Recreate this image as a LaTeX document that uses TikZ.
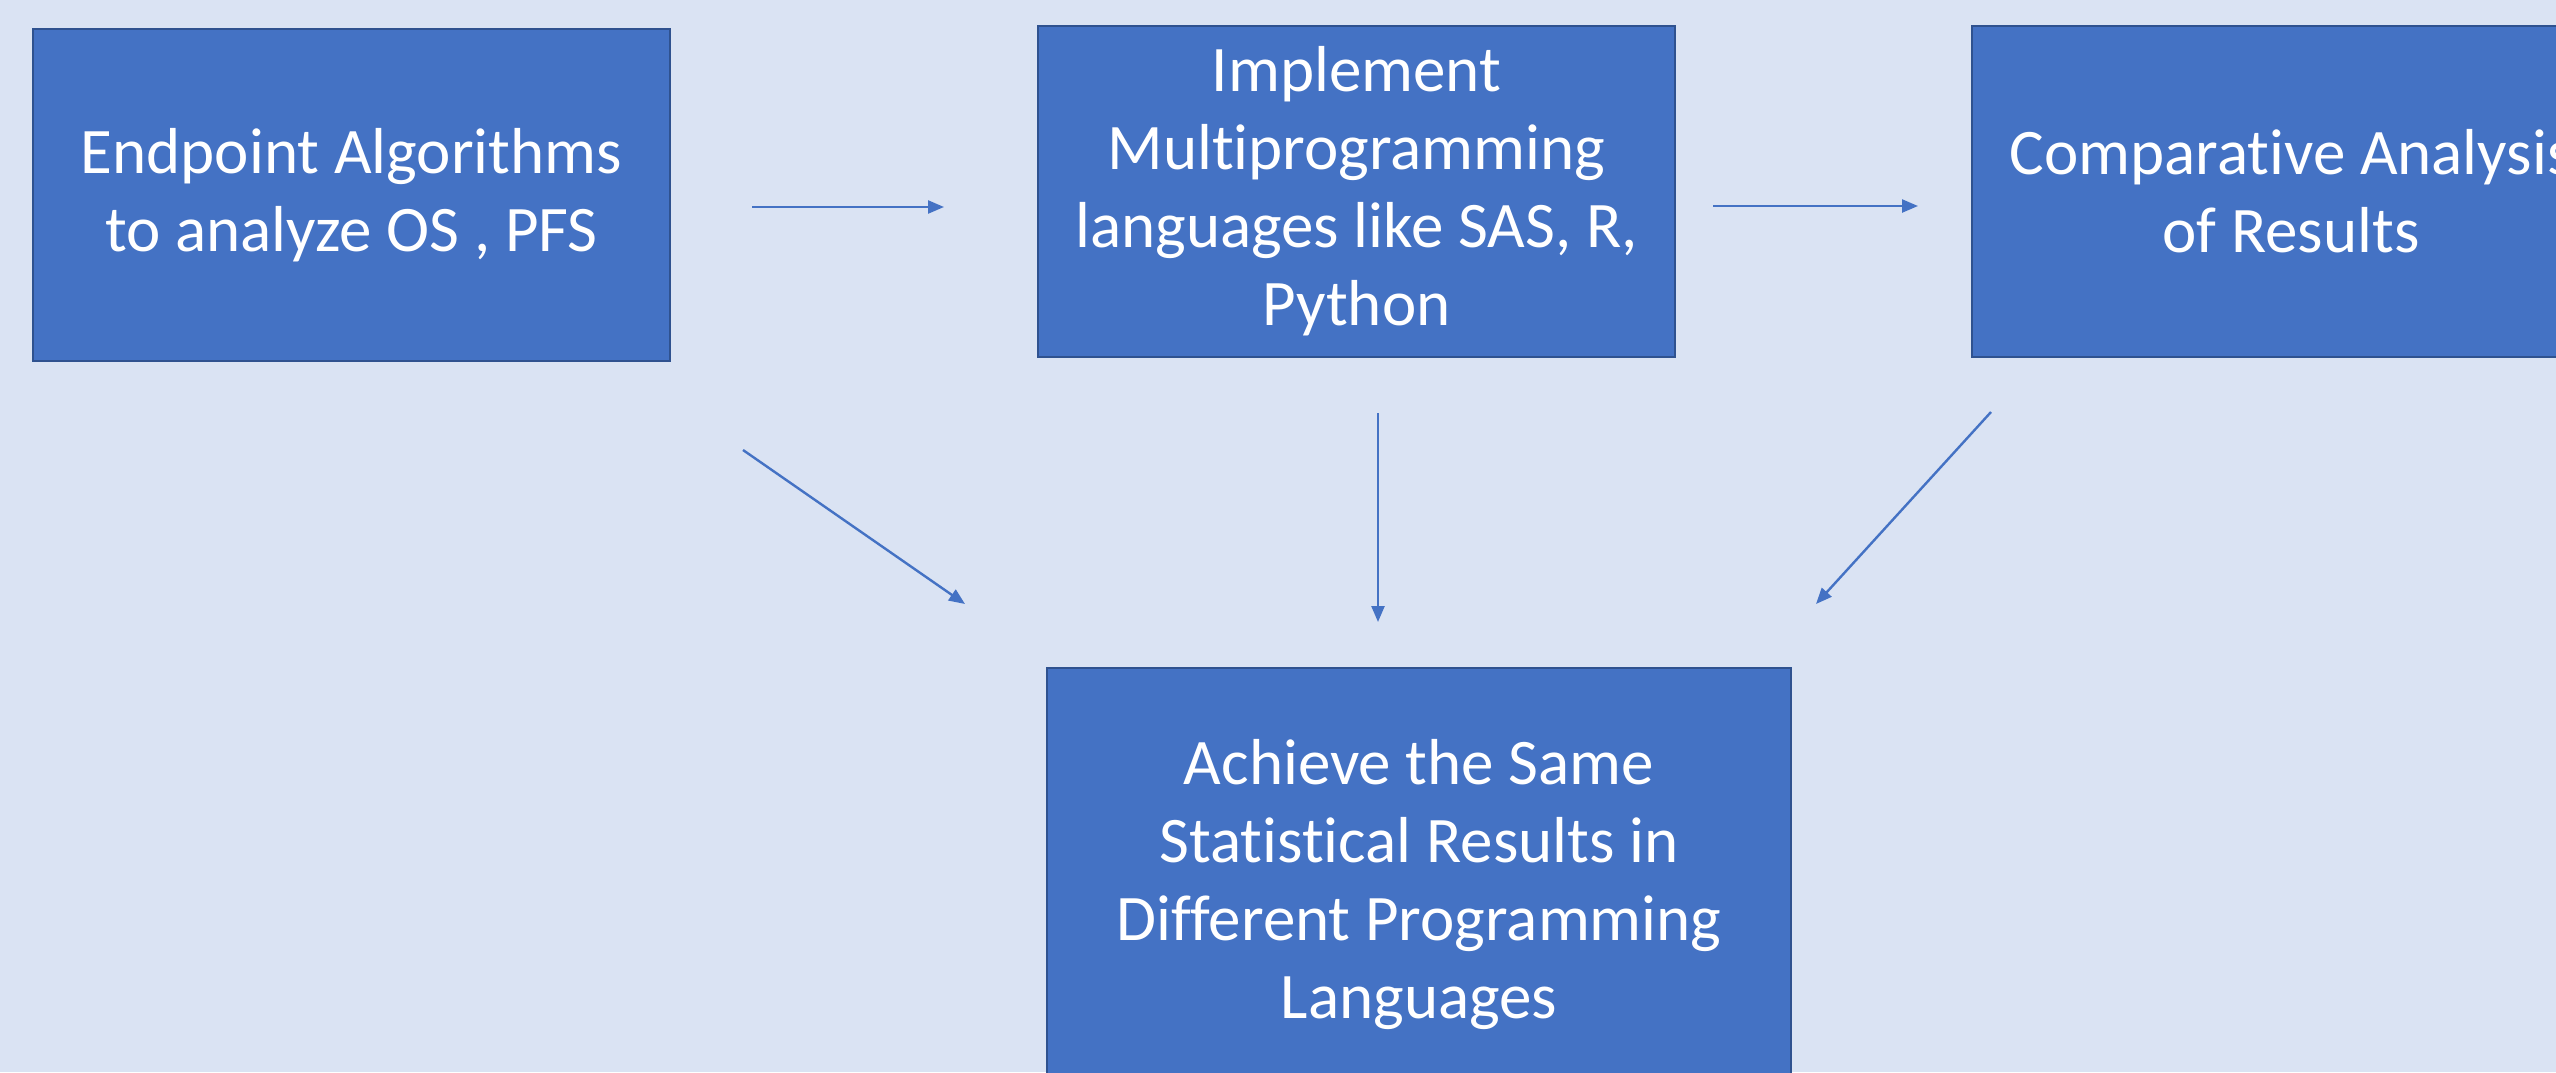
\documentclass[tikz,border=0pt]{standalone}
\usepackage{fontspec}
\setmainfont{Carlito}[Ligatures=NoCommon]
\usetikzlibrary{arrows.meta}
\definecolor{bgc}{HTML}{DAE3F3}
\definecolor{boxfill}{HTML}{4472C4}
\definecolor{boxline}{HTML}{2F528F}
\definecolor{arrc}{HTML}{4472C4}
\tikzset{
  box/.style={draw=boxline, line width=1.2pt, fill=boxfill, text=white, align=center,
    font=\fontsize{32.5pt}{39pt}\selectfont, inner sep=0pt, outer sep=0pt},
  conn/.style={draw=arrc, line width=1.2pt, -{Triangle[length=8pt,width=6.5pt]}}
}
\begin{document}
\begin{tikzpicture}[x=0.5pt,y=-0.5pt]
\useasboundingbox (0,0) rectangle (2556,1072);
\clip (0,0) rectangle (2556,1072);
\fill[bgc] (0,0) rectangle (2556,1072);
\node[box, minimum width=318.5pt, minimum height=166pt] (b1) at (351.5,195)
  {Endpoint Algorithms\\to analyze OS , PFS};
\node[box, minimum width=318.5pt, minimum height=165.5pt] (b2) at (1356.5,191.5)
  {Implement\\Multiprogramming\\languages like SAS, R,\\Python};
\node[box, minimum width=319pt, minimum height=165.5pt] (b3) at (2291,191.5)
  {Comparative Analysis\\of Results};
\node[box, minimum width=372pt, minimum height=217pt] (b4) at (1419,885)
  {Achieve the Same\\Statistical Results in\\Different Programming\\Languages};
\coordinate (a1s) at (752,207);
\coordinate (a1e) at (944,207);
\coordinate (a2s) at (1713,206);
\coordinate (a2e) at (1918,206);
\coordinate (a3s) at (743,450);
\coordinate (a3e) at (965,604);
\coordinate (a4s) at (1378,413);
\coordinate (a4e) at (1378,622);
\coordinate (a5s) at (1991,412);
\coordinate (a5e) at (1816,604);
\draw[conn] (a1s) -- (a1e);
\draw[conn] (a2s) -- (a2e);
\draw[conn] (a3s) -- (a3e);
\draw[conn] (a4s) -- (a4e);
\draw[conn] (a5s) -- (a5e);
\end{tikzpicture}
\end{document}
